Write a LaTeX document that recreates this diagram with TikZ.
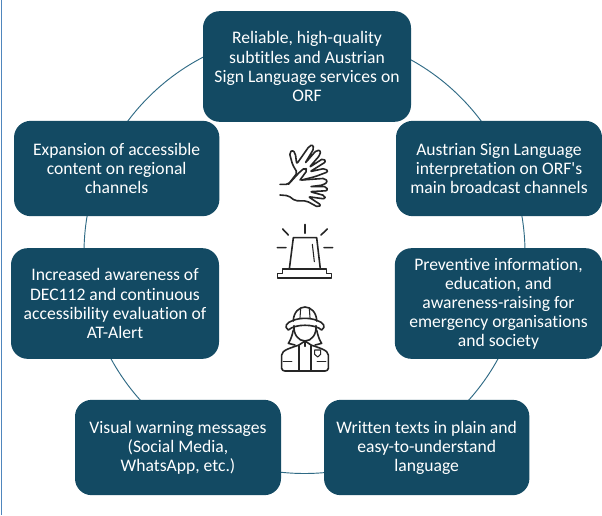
\documentclass[tikz,border=0pt]{standalone}
\usepackage{fontspec}
\setmainfont{Carlito}[Ligatures={TeXOff,NoCommon}]
\tikzset{
  box/.style={fill=boxblue,rounded corners=12.5pt,text=white,align=center,inner sep=0pt,font=\fontsize{13.2}{14.3}\selectfont,anchor=center},
  ring/.style={draw=ringblue,line width=0.7pt,circle,inner sep=0pt,minimum size=330.75pt},
  icon/.style={line width=1.2pt,draw=iconink,line cap=round,line join=round},
  iconthin/.style={line width=0.8pt,draw=iconink,line cap=round,line join=round},
}
\definecolor{boxblue}{HTML}{134A63}
\definecolor{ringblue}{HTML}{2F6A85}
\definecolor{iconink}{HTML}{262626}
\definecolor{edgeblue}{HTML}{4F86BD}
\begin{document}
\begin{tikzpicture}[x=0.75pt,y=-0.75pt]
\useasboundingbox (0,0) rectangle (602,515);
\fill[white] (0,0) rectangle (602,515);
\coordinate (edgetop) at (1.3,0);
\coordinate (edgebot) at (1.3,515);
\draw[edgeblue,line width=1pt] (edgetop) -- (edgebot);
\node[ring] (circ) at (304.5,253) {};
\node[box,minimum width=156pt,minimum height=83pt] (top) at (307,66.5) {Reliable, high-quality\\subtitles and Austrian\\Sign Language services on\\ORF};
\node[box,minimum width=154.5pt,minimum height=71.5pt] (right1) at (499,168.5) {Austrian Sign Language\\interpretation on ORF's\\main broadcast channels};
\node[box,minimum width=154pt,minimum height=71.5pt] (left1) at (116.7,168.5) {Expansion of accessible\\content on regional\\channels};
\node[box,minimum width=155.5pt,minimum height=83pt] (right2) at (498.5,303.5) {Preventive information,\\education, and\\awareness-raising for\\emergency organisations\\and society};
\node[box,minimum width=156pt,minimum height=83pt] (left2) at (115,303.5) {Increased awareness of\\DEC112 and continuous\\accessibility evaluation of\\AT-Alert};
\node[box,minimum width=154.5pt,minimum height=71.5pt] (left3) at (178,447.5) {Visual warning messages\\(Social Media,\\WhatsApp, etc.)};
\node[box,minimum width=154pt,minimum height=71.5pt] (right3) at (426.7,447.5) {Written texts in plain and\\easy-to-understand\\language};
% hands
\begin{scope}[shift={(260,130)},x=0.25pt,y=-0.25pt,rounded corners=1.5pt]
\draw[icon] (60,163) -- (85,163) -- (112,128) -- (98,105) -- (88,68) -- (98,60) -- (106,70) -- (110,102) -- (148,48) -- (158,44) -- (162,55) -- (135,100) -- (170,60) -- (182,62) -- (180,75) -- (148,112) -- (190,85) -- (198,95) -- (150,125) -- (195,115) -- (205,125) -- (165,140) -- (125,150);
\draw[icon] (85,163) -- (120,125) -- (135,113) -- (142,120) -- (120,150);
\draw[icon] (125,150) -- (195,145) -- (203,155) -- (190,165) -- (150,170) -- (200,170) -- (203,182) -- (150,185) -- (195,197) -- (195,207) -- (145,200) -- (183,225) -- (175,232) -- (140,213) -- (105,212) -- (85,197) -- (60,195);
\end{scope}
% beacon
\begin{scope}[shift={(260,215)},x=0.25pt,y=-0.25pt]
\draw[icon] (135,28) -- (135,55) (68,42) -- (85,60) (202,42) -- (183,60) (52,98) -- (78,98) (192,98) -- (218,98);
\draw[icon] (88,162) -- (100,68) -- (170,68) -- (181,162);
\draw[iconthin] (157,88) -- (163,140);
\draw[icon] (68,162) -- (200,162) -- (200,176) -- (215,176) -- (215,189) -- (53,189) -- (53,176) -- (68,176) -- cycle;
% firefighter
\draw[icon] (100,318) .. controls (100,292) and (118,276) .. (135,276) .. controls (152,276) and (170,292) .. (170,318);
\draw[iconthin] (122,280) -- (120,308) (148,280) -- (150,308);
\draw[icon] (85,345) .. controls (70,335) and (80,322) .. (100,316) .. controls (120,308) and (150,308) .. (170,316) .. controls (190,322) and (200,335) .. (185,345) .. controls (165,326) and (105,326) .. (85,345);
\draw[icon] (102,332) .. controls (100,358) and (115,378) .. (135,378) .. controls (155,378) and (170,358) .. (168,332);
\draw[icon] (100,345) .. controls (96,365) and (90,378) .. (85,385) -- (105,390) (170,345) .. controls (174,365) and (180,378) .. (185,385) -- (165,390);
\draw[icon] (65,460) -- (65,420) .. controls (65,405) and (95,398) .. (117,390) -- (135,378) -- (153,390) .. controls (175,398) and (205,405) .. (205,420) -- (205,460) .. controls (205,465) and (200,468) .. (195,468) -- (75,468) .. controls (70,468) and (65,465) .. (65,460) -- cycle;
\draw[icon] (117,392) -- (117,468) (153,392) -- (153,468) (135,378) -- (135,394);
\draw[icon] (70,440) -- (95,440) (172,440) -- (197,440);
\draw[iconthin] (164,405) -- (182,405) -- (182,418) -- (173,426) -- (164,418) -- cycle;
\end{scope}
\end{tikzpicture}
\end{document}
